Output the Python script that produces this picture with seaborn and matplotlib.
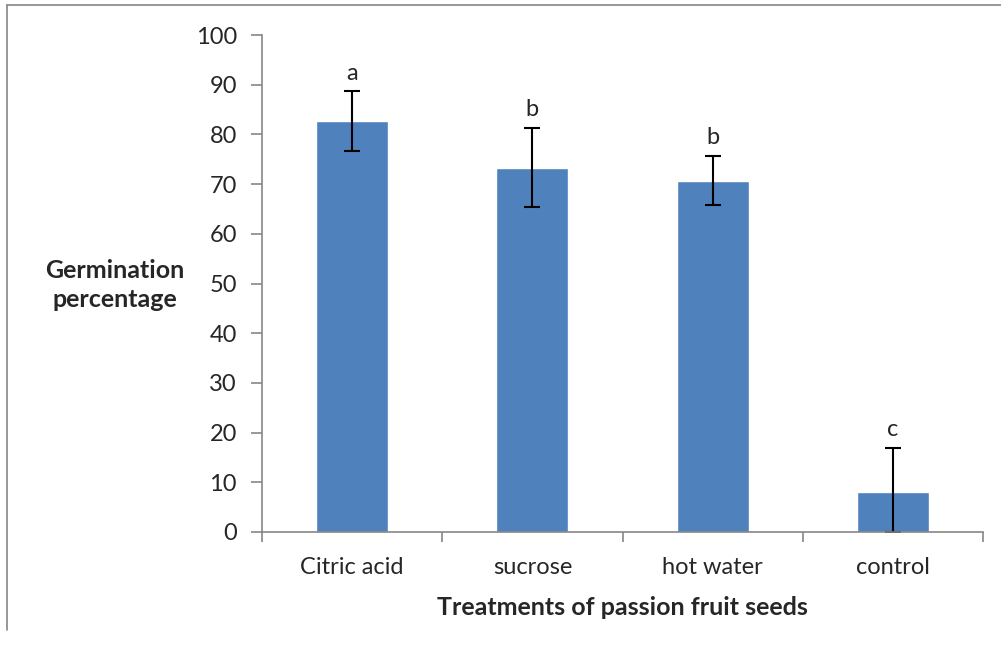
import numpy as np
import pandas as pd
import matplotlib
matplotlib.use("Agg")
import matplotlib.pyplot as plt
import seaborn as sns
from matplotlib.lines import Line2D

# values
treatments = ["Citric acid", "sucrose", "hot water", "control"]
germination = [82.7, 73.3, 70.7, 8.0]
err = [6.0, 8.0, 5.0, 9.0]
letters = ["a", "b", "b", "c"]

sns.set_style("white")
plt.rcParams["font.family"] = ["Lato", "DejaVu Sans"]

df = pd.DataFrame({"treatment": treatments, "germ": germination})

fig = plt.figure(figsize=(10.01, 6.51), dpi=100)
ax = fig.add_axes([262/1001, 1 - 532/651, (983 - 262)/1001, (532 - 35)/651])

sns.barplot(data=df, x="treatment", y="germ", color="#4f81bd", saturation=1,
            width=0.4, errorbar=None, ax=ax)

# error bars (lower part clipped at zero like the original)
lower = [min(e, g) for e, g in zip(err, germination)]
ax.errorbar(range(len(treatments)), germination, yerr=[lower, err], fmt="none",
            ecolor="black", elinewidth=1.5, capsize=6, capthick=1.5)

for i, (g, e, l) in enumerate(zip(germination, err, letters)):
    ax.text(i, g + e + 1.5, l, ha="center", va="bottom", fontsize=17)

ax.set_ylim(0, 100)
ax.set_xlim(-0.5, len(treatments) - 0.5)
ax.set_yticks(np.arange(0, 101, 10))
ax.tick_params(axis="y", length=8, width=1.2, color="#868686", pad=10,
               labelsize=17, direction="out", left=True)

# ticks at category boundaries, labels at centres
ax.set_xticks(np.arange(-0.5, len(treatments), 1.0))
ax.set_xticklabels([])
ax.set_xticks(range(len(treatments)), minor=True)
ax.set_xticklabels(treatments, minor=True)
ax.tick_params(axis="x", which="major", length=7, width=1.2, color="#868686",
               direction="out", bottom=True)
ax.tick_params(axis="x", which="minor", length=0, pad=18, labelsize=17)

for s in ["top", "right"]:
    ax.spines[s].set_visible(False)
for s in ["left", "bottom"]:
    ax.spines[s].set_color("#868686")
    ax.spines[s].set_linewidth(1.2)

ax.set_xlabel("Treatments of passion fruit seeds", fontsize=18, fontweight="bold", labelpad=13)
ax.set_ylabel("")
fig.text(115/1001, 1 - 285/651, "Germination\npercentage", ha="center", va="center",
         fontsize=18, fontweight="bold", linespacing=1.3)

# outer chart-area frame (partly visible in the reference)
fig.add_artist(Line2D([7/1001, 7/1001], [1 - 630/651, 1 - 5/651], color="#868686", lw=1.2))
fig.add_artist(Line2D([7/1001, 1.0], [1 - 5/651, 1 - 5/651], color="#868686", lw=1.2))

fig.savefig("out.png", dpi=100)
